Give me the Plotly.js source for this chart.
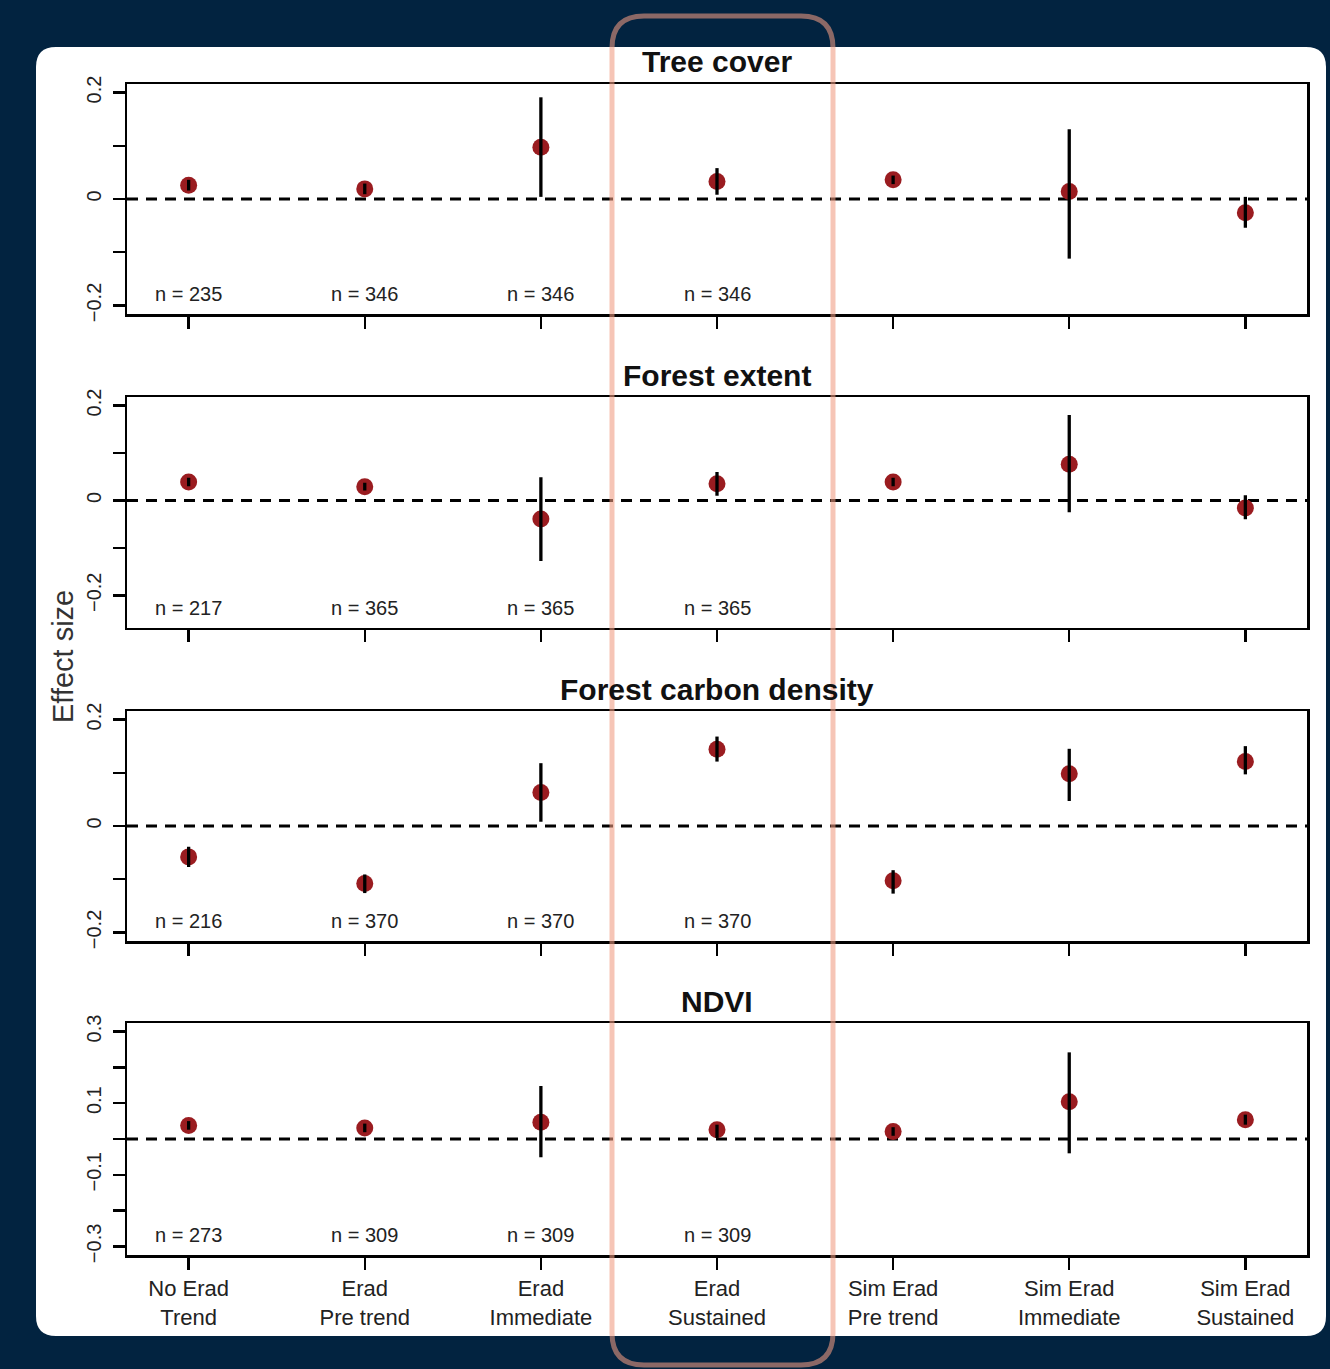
<!DOCTYPE html>
<html>
<head>
<meta charset="utf-8">
<script src="https://cdn.plot.ly/plotly-3.0.1.min.js"></script>
<style>html,body{margin:0;padding:0;background:#022340;}#chart{width:1330px;height:1369px;}</style>
</head>
<body>
<div id="chart"></div>
<script>
// ---------- data ----------
const categories = ["No Erad<br>Trend", "Erad<br>Pre trend", "Erad<br>Immediate", "Erad<br>Sustained",
                    "Sim Erad<br>Pre trend", "Sim Erad<br>Immediate", "Sim Erad<br>Sustained"];
const panelTitles = ["Tree cover", "Forest extent", "Forest carbon density", "NDVI"];

const treeEst = [0.026, 0.019, 0.097, 0.033, 0.036, 0.014, -0.026];
const treeLo  = [0.016, 0.009, 0.004, 0.008, 0.028, -0.112, -0.054];
const treeHi  = [0.036, 0.029, 0.191, 0.058, 0.044, 0.131, 0.004];

const extentEst = [0.039, 0.029, -0.039, 0.035, 0.039, 0.076, -0.016];
const extentLo  = [0.030, 0.021, -0.128, 0.010, 0.030, -0.025, -0.040];
const extentHi  = [0.048, 0.037, 0.049, 0.060, 0.048, 0.180, 0.011];

const carbonEst = [-0.058, -0.108, 0.063, 0.144, -0.103, 0.098, 0.121];
const carbonLo  = [-0.077, -0.126, 0.008, 0.121, -0.127, 0.047, 0.097];
const carbonHi  = [-0.039, -0.091, 0.118, 0.168, -0.083, 0.145, 0.150];

const ndviEst = [0.038, 0.031, 0.047, 0.026, 0.021, 0.104, 0.054];
const ndviLo  = [0.026, 0.019, -0.051, 0.003, 0.009, -0.040, 0.040];
const ndviHi  = [0.050, 0.043, 0.148, 0.040, 0.033, 0.242, 0.068];

const nTree   = [235, 346, 346, 346];
const nExtent = [217, 365, 365, 365];
const nCarbon = [216, 370, 370, 370];
const nNdvi   = [273, 309, 309, 309];

const ticks02 = [-0.2, -0.1, 0, 0.1, 0.2];
const ticks02Text = ["\u22120.2", "", "0", "", "0.2"];
const ticks03 = [-0.3, -0.2, -0.1, 0, 0.1, 0.2, 0.3];
const ticks03Text = ["\u22120.3", "", "\u22120.1", "", "0.1", "", "0.3"];

const yRanges = [[-0.216, 0.216], [-0.268, 0.218], [-0.216, 0.216], [-0.324, 0.324]];

// ---------- layout helpers ----------
const W = 1330, H = 1369;
const px = v => v / W;
const py = v => 1 - v / H;
const panelsPx = [[84, 314], [397, 627.5], [711, 941], [1023, 1255]];
const xDomain = [px(127), px(1307)];
const FONT = "Liberation Sans, Arial, Helvetica, sans-serif";
const dotColor = "#9a1c20";

const panels = [
  {est: treeEst, lo: treeLo, hi: treeHi, n: nTree, tv: ticks02, tt: ticks02Text},
  {est: extentEst, lo: extentLo, hi: extentHi, n: nExtent, tv: ticks02, tt: ticks02Text},
  {est: carbonEst, lo: carbonLo, hi: carbonHi, n: nCarbon, tv: ticks02, tt: ticks02Text},
  {est: ndviEst, lo: ndviLo, hi: ndviHi, n: nNdvi, tv: ticks03, tt: ticks03Text}
];

const traces = [];
const layout = {
  width: W, height: H,
  margin: {l: 0, r: 0, t: 0, b: 0},
  paper_bgcolor: "#022340",
  plot_bgcolor: "rgba(0,0,0,0)",
  showlegend: false,
  font: {family: FONT, color: "#222"},
  shapes: [],
  annotations: []
};

// white card
const cL = 36, cR = 1326, cT = 47, cB = 1336, cr = 20;
layout.shapes.push({
  type: "path", xref: "paper", yref: "paper", layer: "below",
  path: `M ${px(cL + cr)} ${py(cT)} L ${px(cR - cr)} ${py(cT)} Q ${px(cR)} ${py(cT)} ${px(cR)} ${py(cT + cr)} ` +
        `L ${px(cR)} ${py(cB - cr)} Q ${px(cR)} ${py(cB)} ${px(cR - cr)} ${py(cB)} ` +
        `L ${px(cL + cr)} ${py(cB)} Q ${px(cL)} ${py(cB)} ${px(cL)} ${py(cB - cr)} ` +
        `L ${px(cL)} ${py(cT + cr)} Q ${px(cL)} ${py(cT)} ${px(cL + cr)} ${py(cT)} Z`,
  fillcolor: "white", line: {width: 0}
});

panels.forEach((p, i) => {
  const k = i === 0 ? "" : String(i + 1);
  const xa = "x" + k, ya = "y" + k;
  traces.push({
    type: "scatter", mode: "markers", x: categories, y: p.est, xaxis: xa, yaxis: ya,
    marker: {size: 17, color: dotColor}, hoverinfo: "skip"
  });
  traces.push({
    type: "scatter", mode: "markers", x: categories, y: p.est, xaxis: xa, yaxis: ya,
    marker: {size: 1, opacity: 0},
    error_y: {type: "data", symmetric: false,
              array: p.hi.map((h, j) => h - p.est[j]),
              arrayminus: p.lo.map((l, j) => p.est[j] - l),
              color: "black", thickness: 3.3, width: 0},
    hoverinfo: "skip"
  });
  const [top, bot] = panelsPx[i];
  layout["xaxis" + k] = {
    domain: xDomain, anchor: ya, type: "category", categoryorder: "array", categoryarray: categories,
    range: [-0.35, 6.35], showgrid: false, zeroline: false,
    showline: true, mirror: true, linecolor: "black", linewidth: 2.5,
    ticks: "outside", ticklen: 12, tickwidth: 2.5, tickcolor: "black",
    showticklabels: i === 3,
    tickfont: {size: 22, color: "#222", family: FONT}, ticklabelstandoff: 0
  };
  layout["yaxis" + k] = {
    domain: [py(bot), py(top)], anchor: xa, range: yRanges[i],
    showgrid: false, zeroline: false,
    showline: true, mirror: true, linecolor: "black", linewidth: 2.5,
    ticks: "outside", ticklen: 12, tickwidth: 2.5, tickcolor: "black",
    tickmode: "array", tickvals: p.tv, ticktext: p.tt, tickangle: -90,
    tickfont: {size: 20, color: "#222", family: FONT}, ticklabelstandoff: 4
  };
  // zero reference line
  layout.shapes.push({
    type: "line", xref: xa + " domain", yref: ya, x0: 0, x1: 1, y0: 0, y1: 0,
    line: {color: "black", width: 3, dash: "11px,8px"}, layer: "below"
  });
  // panel title
  layout.annotations.push({
    xref: "paper", yref: "paper", x: (xDomain[0] + xDomain[1]) / 2, y: py(top - 22),
    xanchor: "center", yanchor: "middle", showarrow: false,
    text: "<b>" + panelTitles[i] + "</b>", font: {size: 30, color: "#111", family: FONT}
  });
  // n labels
  p.n.forEach((n, j) => {
    layout.annotations.push({
      xref: xa, yref: ya + " domain", x: categories[j], y: 0.085,
      xanchor: "center", yanchor: "middle", showarrow: false,
      text: "n = " + n, font: {size: 20, color: "#222", family: FONT}
    });
  });
});

// y-axis label
layout.annotations.push({
  xref: "paper", yref: "paper", x: px(63), y: py(657), xanchor: "center", yanchor: "middle",
  showarrow: false, textangle: -90, text: "Effect size",
  font: {size: 29, color: "#333", family: FONT}
});

// highlight box
const hL = 612, hR = 833, hT = 16, hB = 1365, hr = 32;
layout.shapes.push({
  type: "path", xref: "paper", yref: "paper", layer: "above",
  path: `M ${px(hL + hr)} ${py(hT)} L ${px(hR - hr)} ${py(hT)} Q ${px(hR)} ${py(hT)} ${px(hR)} ${py(hT + hr)} ` +
        `L ${px(hR)} ${py(hB - hr)} Q ${px(hR)} ${py(hB)} ${px(hR - hr)} ${py(hB)} ` +
        `L ${px(hL + hr)} ${py(hB)} Q ${px(hL)} ${py(hB)} ${px(hL)} ${py(hB - hr)} ` +
        `L ${px(hL)} ${py(hT + hr)} Q ${px(hL)} ${py(hT)} ${px(hL + hr)} ${py(hT)} Z`,
  line: {color: "rgba(240,155,130,0.58)", width: 5}, fillcolor: "rgba(0,0,0,0)"
});

Plotly.newPlot("chart", traces, layout, {displayModeBar: false, staticPlot: true});
</script>
</body>
</html>
